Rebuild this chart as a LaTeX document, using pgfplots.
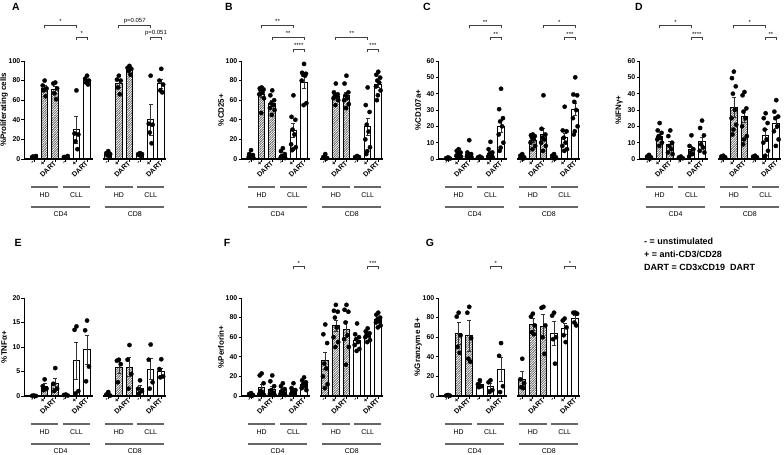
\documentclass[border=0pt]{standalone}
\usepackage{fontspec}
\setmainfont{Liberation Sans}
\usepackage{pgfplots}
\pgfplotsset{compat=1.18}
\usetikzlibrary{patterns.meta}

\tikzdeclarepattern{
  name=fhatch, type=uncolored,
  bottom left={(-0.5pt,-0.5pt)}, top right={(2.9pt,2.9pt)},
  tile size={(2.4pt,2.4pt)},
  code={\draw[line width=0.6pt] (-0.5pt,-0.5pt) -- (2.9pt,2.9pt);}
}

\tikzset{
  gline/.style={black!60, line width=1.3bp},
  gtext/.style={font=\fontsize{7}{8}\selectfont, inner sep=0pt},
  xline/.style={black, line width=1.1bp},
  brk/.style={black!75, line width=0.8bp},
  plet/.style={font=\bfseries\fontsize{10.5}{12}\selectfont, inner sep=0pt},
}

\pgfplotsset{
  panel/.style={
    scale only axis, width=141bp, height=98bp,
    xmin=-0.9, xmax=12.4, ymin=0,
    axis x line*=bottom, axis y line*=left,
    x axis line style={draw=none},
    y axis line style={line width=1.1bp, -},
    xtick={0,1,2,3,4,5,7,8,9,10,11,12},
    xticklabels={-,+,DART,-,+,DART,-,+,DART,-,+,DART},
    x tick label style={rotate=45, anchor=east, font=\bfseries\fontsize{7}{7}\selectfont, inner sep=0.3pt},
    y tick label style={font=\bfseries\fontsize{7}{8}\selectfont, inner sep=1pt},
    /pgf/number format/assume math mode=true,
    tick style={black, line width=0.9bp},
    major tick length=3bp,
    tick align=outside,
    ylabel style={font=\bfseries\fontsize{8}{9}\selectfont, at={(axis description cs:-0.145,0.5)}, anchor=center},
    clip=false,
  },
  hbar/.style={ybar, bar width=0.62, bar shift=0pt, draw=black, line width=1bp,
    pattern=fhatch, pattern color=black!60,
    error bars/.cd, y dir=both, y explicit,
    error bar style={draw=black!80, line width=0.6bp},
    error mark options={rotate=90, mark size=2bp, draw=black!80, line width=0.6bp}},
  wbar/.style={ybar, bar width=0.62, bar shift=0pt, draw=black, line width=1bp, fill=white,
    error bars/.cd, y dir=both, y explicit,
    error bar style={draw=black!80, line width=0.6bp},
    error mark options={rotate=90, mark size=2bp, draw=black!80, line width=0.6bp}},
  pts/.style={only marks, mark=*, mark size=2.15bp, mark options={draw=black, fill=black, line width=0.3bp}},
}

\newcommand{\grp}{%
  \draw[gline] ([yshift=-28bp]axis cs:-0.3,0) -- ([yshift=-28bp]axis cs:2.3,0);
  \draw[gline] ([yshift=-28bp]axis cs:2.7,0) -- ([yshift=-28bp]axis cs:5.3,0);
  \draw[gline] ([yshift=-28bp]axis cs:6.7,0) -- ([yshift=-28bp]axis cs:9.3,0);
  \draw[gline] ([yshift=-28bp]axis cs:9.7,0) -- ([yshift=-28bp]axis cs:12.3,0);
  \draw[gline] ([yshift=-48bp]axis cs:-0.3,0) -- ([yshift=-48bp]axis cs:5.3,0);
  \draw[gline] ([yshift=-48bp]axis cs:6.7,0) -- ([yshift=-48bp]axis cs:12.3,0);
  \node[gtext] at ([yshift=-36.5bp]axis cs:1,0) {HD};
  \node[gtext] at ([yshift=-36.5bp]axis cs:4,0) {CLL};
  \node[gtext] at ([yshift=-36.5bp]axis cs:8,0) {HD};
  \node[gtext] at ([yshift=-36.5bp]axis cs:11,0) {CLL};
  \node[gtext] at ([yshift=-55bp]axis cs:2.5,0) {CD4};
  \node[gtext] at ([yshift=-55bp]axis cs:9.5,0) {CD8};
  \draw[xline] (axis cs:-0.9,0) -- (axis cs:5.6,0);
  \draw[xline] (axis cs:6.5,0) -- (axis cs:12.4,0);
}
% x1, x2, xmid, ytop, shift(bp), label
\newcommand{\brk}[6]{%
  \draw[brk] ([yshift=#5bp-3.5bp]axis cs:#1,#4) -- ([yshift=#5bp]axis cs:#1,#4) -- ([yshift=#5bp]axis cs:#2,#4) -- ([yshift=#5bp-3.5bp]axis cs:#2,#4);
  \node[font=\fontsize{6}{6}\selectfont, anchor=south, inner sep=0.8pt] at ([yshift=#5bp]axis cs:#3,#4) {#6};
}

\begin{document}
\begin{tikzpicture}
\fill[white] (0,0) rectangle (784bp,455bp);
\path[use as bounding box] (0,0) rectangle (784bp,455bp);

% ---------------- A ----------------
\begin{axis}[panel, at={(24.5bp,296bp)}, anchor=south west, ymax=100, ytick={0,20,...,100}, ylabel={\%Proliferating cells}]
\addplot[hbar] table[row sep=\\, x=x, y=y, y error=e] {x y e\\ 0 2 0.4\\ 1 72 3\\ 2 71 3.5\\ 7 5 1\\ 8 77 3.5\\ 9 91 1.6\\};
\addplot[wbar] table[row sep=\\, x=x, y=y, y error=e] {x y e\\ 3 2 0.4\\ 4 30 14\\ 5 80 1.8\\ 10 5 0.6\\ 11 40 16\\ 12 77 4.5\\};
\addplot[pts] coordinates {
(0,1) (-0.18,2) (0.18,3) (-0.09,2.5) (0.09,1.5)
(1,80) (0.82,75) (1.18,72) (0.91,70) (1.09,64)
(2,78) (1.82,77) (2.18,72) (1.91,67) (2.09,61)
(3,1) (2.82,2) (3.18,3) (2.91,2) (3.09,2)
(4,70) (3.82,26) (4.18,25) (3.91,18) (4.09,10)
(5,85) (4.82,82) (5.18,80) (4.91,78) (5.09,76)
(7,8) (6.82,6) (7.18,5) (6.91,4) (7.09,3)
(8,85) (7.82,81) (8.18,80) (7.91,73) (8.09,66)
(9,95) (8.82,93) (9.18,92) (8.91,90) (9.09,86)
(10,6) (9.82,5) (10.18,5) (9.91,4) (10.09,3)
(11,85) (10.82,36) (11.18,35) (10.91,27) (11.09,16)
(12,92) (11.82,80) (12.18,76) (11.91,70) (12.09,68)
};
\grp
\brk{1}{4}{2.5}{100}{36}{*}
\brk{4}{5}{4.5}{100}{24}{*}
\brk{8}{11}{9.5}{100}{36}{p=0.057}
\brk{11}{12}{11.5}{100}{24}{p=0.051}
\end{axis}

% ---------------- B ----------------
\begin{axis}[panel, at={(241.5bp,296bp)}, anchor=south west, ymax=100, ytick={0,20,...,100}, ylabel={\%CD25+}]
\addplot[hbar] table[row sep=\\, x=x, y=y, y error=e] {x y e\\ 0 3 1\\ 1 66 3\\ 2 57 3\\ 7 2 0.8\\ 8 64 2.5\\ 9 65 3.5\\};
\addplot[wbar] table[row sep=\\, x=x, y=y, y error=e] {x y e\\ 3 4 1.2\\ 4 29 7\\ 5 78 6\\ 10 2 0.5\\ 11 33 8.5\\ 12 76 3\\};
\addplot[pts] coordinates {
(0,9) (-0.18,5) (0.18,4) (-0.09,3) (0.09,2) (-0.22,2) (0.22,1) (-0.04,1)
(1,73) (0.82,72) (1.18,71) (0.91,70) (1.09,68) (0.78,66) (1.22,62) (0.96,47)
(2,70) (1.82,65) (2.18,60) (1.91,57) (2.09,55) (1.78,52) (2.22,50) (1.96,45)
(3,11) (2.82,8) (3.18,5) (2.91,3) (3.09,2) (2.78,1) (3.22,1) (2.96,2)
(4,65) (3.82,43) (4.18,40) (3.91,30) (4.09,25) (3.78,15) (4.22,12) (3.96,10) (3.87,9)
(5,97) (4.82,88) (5.18,87) (4.91,86) (5.09,85) (4.78,80) (5.22,57) (4.96,55)
(7,5) (6.82,2) (7.18,1) (6.91,1) (7.09,0.5)
(8,77) (7.82,68) (8.18,66) (7.91,65) (8.09,64) (7.78,62) (8.22,60) (7.96,55)
(9,85) (8.82,77) (9.18,68) (8.91,65) (9.09,62) (8.78,60) (9.22,56) (8.96,52)
(10,3) (9.82,2) (10.18,2) (9.91,1) (10.09,1)
(11,73) (10.82,55) (11.18,48) (10.91,35) (11.09,28) (10.78,20) (11.22,12) (10.96,8) (10.87,5)
(12,89) (11.82,86) (12.18,83) (11.91,80) (12.09,78) (11.78,74) (12.22,70) (11.96,65) (11.87,60)
};
\grp
\brk{1}{4}{2.5}{100}{36}{**}
\brk{2}{5}{3.5}{100}{24}{**}
\brk{4}{5}{4.5}{100}{12}{****}
\brk{8}{11}{9.5}{100}{24}{**}
\brk{11}{12}{11.5}{100}{12}{***}
\end{axis}

% ---------------- C ----------------
\begin{axis}[panel, at={(438.5bp,296bp)}, anchor=south west, ymax=60, ytick={0,10,...,60}, ylabel={\%CD107a+}]
\addplot[hbar] table[row sep=\\, x=x, y=y, y error=e] {x y e\\ 0 0.5 0.2\\ 1 3 0.6\\ 2 3 1.2\\ 7 1 0.4\\ 8 11.5 1.2\\ 9 15 3.5\\};
\addplot[wbar] table[row sep=\\, x=x, y=y, y error=e] {x y e\\ 3 1 0.2\\ 4 3.5 1.2\\ 5 20 3.8\\ 10 1 0.4\\ 11 13 3\\ 12 30.5 3.8\\};
\addplot[pts] coordinates {
(0,1) (-0.18,0.5) (0.18,0.3) (-0.09,0.2)
(1,6) (0.82,5) (1.18,4) (0.91,3) (1.09,2.5) (0.78,2) (1.22,1.5) (0.96,1)
(2,11.5) (1.82,4) (2.18,3) (1.91,2.5) (2.09,2) (1.78,1.5) (2.22,1) (1.96,1)
(3,1.5) (2.82,1) (3.18,0.8) (2.91,0.5)
(4,10.5) (3.82,6) (4.18,4) (3.91,3) (4.09,2) (3.78,1.5) (4.22,1) (3.96,0.5)
(5,43) (4.82,30.5) (5.18,25) (4.91,23) (5.09,20) (4.78,15) (5.22,10) (4.96,7) (4.87,5)
(7,3) (6.82,2) (7.18,1) (6.91,0.5) (7.09,0.3)
(8,15) (7.82,14.5) (8.18,14) (7.91,13) (8.09,12) (7.78,10) (8.22,8) (7.96,6)
(9,39) (8.82,18.5) (9.18,15) (8.91,13) (9.09,12) (8.78,10) (9.22,8) (8.96,5)
(10,3) (9.82,2) (10.18,1) (9.91,0.5) (10.09,0.3)
(11,32) (10.82,17.5) (11.18,17) (10.91,13) (11.09,10) (10.78,8) (11.22,6) (10.96,5)
(12,50) (11.82,39.5) (12.18,39) (11.91,35) (12.09,30) (11.78,25) (12.22,20) (11.96,17) (11.87,15)
};
\grp
\brk{2}{5}{3.5}{60}{36}{**}
\brk{4}{5}{4.5}{60}{24}{**}
\brk{9}{12}{10.5}{60}{36}{*}
\brk{11}{12}{11.5}{60}{24}{***}
\end{axis}

% ---------------- D ----------------
\begin{axis}[panel, at={(639.5bp,296bp)}, anchor=south west, ymax=60, ytick={0,10,...,60}, ylabel={\%IFNγ+}]
\addplot[hbar] table[row sep=\\, x=x, y=y, y error=e] {x y e\\ 0 1 0.3\\ 1 13.5 1.6\\ 2 9 2\\ 7 1 0.3\\ 8 31.5 6\\ 9 26 3.8\\};
\addplot[wbar] table[row sep=\\, x=x, y=y, y error=e] {x y e\\ 3 0.7 0.2\\ 4 6 2\\ 5 11 2.5\\ 10 1 0.3\\ 11 14.5 3.5\\ 12 22 3.5\\};
\addplot[pts] coordinates {
(0,2.5) (-0.18,1.5) (0.18,1) (-0.09,0.5) (0.09,0.3)
(1,22) (0.82,17.5) (1.18,16) (0.91,14) (1.09,13) (0.78,12) (1.22,10) (0.96,8)
(2,17.5) (1.82,14) (2.18,10) (1.91,8) (2.09,6) (1.78,4) (2.22,3)
(3,1.5) (2.82,1) (3.18,0.5) (2.91,0.3)
(4,14.5) (3.82,8) (4.18,6) (3.91,4) (4.09,3) (3.78,1.5)
(5,23.5) (4.82,19) (5.18,14.5) (4.91,9) (5.09,7) (4.78,5) (5.22,4)
(7,2) (6.82,1.5) (7.18,1) (6.91,0.5)
(8,53.5) (7.82,49.5) (8.18,44.5) (7.91,40) (8.09,30) (7.78,25) (8.22,21) (7.96,18) (7.87,15)
(9,41) (8.82,39) (9.18,31) (8.91,29) (9.09,25) (8.78,20) (9.22,14) (8.96,12) (8.87,9)
(10,2) (9.82,1.5) (10.18,1) (9.91,0.5)
(11,28) (10.82,25) (11.18,22) (10.91,18) (11.09,12) (10.78,10) (11.22,5) (10.96,2) (10.87,1)
(12,36) (11.82,29) (12.18,26) (11.91,25) (12.09,20) (11.78,17) (12.22,12) (11.96,8)
};
\grp
\brk{1}{4}{2.5}{60}{36}{*}
\brk{4}{5}{4.5}{60}{24}{****}
\brk{8}{11}{9.5}{60}{36}{*}
\brk{11}{12}{11.5}{60}{24}{**}
\end{axis}

% ---------------- E ----------------
\begin{axis}[panel, at={(24.5bp,59bp)}, anchor=south west, ymax=20, ytick={0,5,...,20}, ylabel={\%TNFα+}]
\addplot[hbar] table[row sep=\\, x=x, y=y, y error=e] {x y e\\ 0 0.05 0\\ 1 2 0.5\\ 2 2.6 1.1\\ 7 0.3 0.2\\ 8 5.9 1.3\\ 9 5.9 1.9\\};
\addplot[wbar] table[row sep=\\, x=x, y=y, y error=e] {x y e\\ 3 0.2 0.05\\ 4 7.2 3.8\\ 5 9.4 3\\ 10 1.5 0.6\\ 11 5.5 2.1\\ 12 5 0.7\\};
\addplot[pts] coordinates {
(0,0.1) (-0.18,0.05) (0.18,0)
(1,3.4) (0.82,2) (1.18,1.5) (0.91,1.2)
(2,5.7) (1.82,2.5) (2.18,1.5) (1.91,1)
(3,0.3) (2.82,0.2) (3.18,0.1)
(4,14.2) (3.82,13.5) (4.18,1) (3.91,0.5)
(5,15.4) (4.82,13.4) (5.18,6) (4.91,3)
(7,0.8) (6.82,0.3) (7.18,0.1)
(8,7.4) (7.82,7.2) (8.18,6.5) (7.91,2.8)
(9,10.4) (8.82,7.4) (9.18,4.5) (8.91,1.5)
(10,3.2) (9.82,1.5) (10.18,1) (9.91,0.5)
(11,10.5) (10.82,7.4) (11.18,2.8) (10.91,1.5)
(12,7.5) (11.82,5.5) (12.18,4) (11.91,3.8)
};
\grp
\end{axis}

% ---------------- F ----------------
\begin{axis}[panel, at={(241.5bp,59bp)}, anchor=south west, ymax=100, ytick={0,20,...,100}, ylabel={\%Perforin+}]
\addplot[hbar] table[row sep=\\, x=x, y=y, y error=e] {x y e\\ 0 1 0.4\\ 1 8.5 3\\ 2 7 2.5\\ 7 36 9\\ 8 72 5.5\\ 9 68 8.5\\};
\addplot[wbar] table[row sep=\\, x=x, y=y, y error=e] {x y e\\ 3 6 1.7\\ 4 6 1.5\\ 5 12 1.7\\ 10 57 3.3\\ 11 62 1.7\\ 12 78 1.8\\};
\addplot[pts] coordinates {
(0,3) (-0.18,2) (0.18,1) (-0.09,0.5) (0.09,0.3)
(1,23) (0.82,21) (1.18,13) (0.91,5) (1.09,3) (0.78,2) (1.22,1) (0.96,1)
(2,21) (1.82,15) (2.18,10) (1.91,6) (2.09,3) (1.78,2) (2.22,1) (1.96,1)
(3,13) (2.82,10) (3.18,7) (2.91,5) (3.09,3) (2.78,2) (3.22,1)
(4,13) (3.82,8) (4.18,6) (3.91,4) (4.09,3) (3.78,2)
(5,19) (4.82,16) (5.18,14) (4.91,12) (5.09,10) (4.78,8) (5.22,6)
(7,73) (6.82,63) (7.18,54) (6.91,33) (7.09,28) (6.78,20) (7.22,12) (6.96,8)
(8,93) (7.82,87) (8.18,86) (7.91,80) (8.09,70) (7.78,60) (8.22,55) (7.96,50)
(9,93) (8.82,88) (9.18,86) (8.91,75) (9.09,62) (8.78,58) (9.22,50) (8.96,32)
(10,74) (9.82,63) (10.18,60) (9.91,58) (10.09,55) (9.78,52) (10.22,48) (9.96,46)
(11,69) (10.82,66) (11.18,64) (10.91,63) (11.09,62) (10.78,60) (11.22,57) (10.96,55)
(12,85) (11.82,83) (12.18,80) (11.91,78) (12.09,76) (11.78,75) (12.22,72) (11.96,70)
};
\grp
\brk{4}{5}{4.5}{100}{32}{*}
\brk{11}{12}{11.5}{100}{32}{***}
\end{axis}

% ---------------- G ----------------
\begin{axis}[panel, at={(438.5bp,59bp)}, anchor=south west, ymax=100, ytick={0,20,...,100}, ylabel={\%Granzyme B+}]
\addplot[hbar] table[row sep=\\, x=x, y=y, y error=e] {x y e\\ 0 0.5 0.2\\ 1 64 11\\ 2 61.5 15.5\\ 7 17 8\\ 8 73 6\\ 9 71 12\\};
\addplot[wbar] table[row sep=\\, x=x, y=y, y error=e] {x y e\\ 3 12 1.7\\ 4 10 3\\ 5 27 12.5\\ 10 64 12.5\\ 11 68.5 6\\ 12 79 3.5\\};
\addplot[pts] coordinates {
(0,1) (-0.18,0.5) (0.18,0.3)
(1,85) (0.82,81) (1.18,62) (0.91,50) (1.09,44)
(2,91) (1.82,85) (2.18,59) (1.91,38) (2.09,35)
(3,16) (2.82,12) (3.18,10) (2.91,9)
(4,16) (3.82,14) (4.18,6) (3.91,4)
(5,54) (4.82,41) (5.18,10) (4.91,4)
(7,38) (6.82,17) (7.18,13) (6.91,9) (7.09,8)
(8,84) (7.82,81) (8.18,72) (7.91,65) (8.09,63)
(9,91) (8.82,90) (9.18,72) (8.91,60) (9.09,43)
(10,85) (9.82,82) (10.18,60) (9.91,58) (10.09,33)
(11,79) (10.82,77) (11.18,70) (10.91,62) (11.09,55)
(12,85) (11.82,85) (12.18,84) (11.91,75) (12.09,72)
};
\grp
\brk{4}{5}{4.5}{100}{32}{*}
\brk{11}{12}{11.5}{100}{32}{*}
\end{axis}

% panel letters
\node[plet] at (16bp,448bp) {A};
\node[plet] at (229bp,448bp) {B};
\node[plet] at (427bp,448bp) {C};
\node[plet] at (639bp,448bp) {D};
\node[plet] at (18bp,212bp) {E};
\node[plet] at (227bp,212bp) {F};
\node[plet] at (430bp,212bp) {G};

% explanation
\node[anchor=west, inner sep=0pt, font=\bfseries\fontsize{9}{11}\selectfont] at (644bp,213.3bp) {- = unstimulated};
\node[anchor=west, inner sep=0pt, font=\bfseries\fontsize{9}{11}\selectfont] at (644bp,200.7bp) {+ = anti-CD3/CD28};
\node[anchor=west, inner sep=0pt, font=\bfseries\fontsize{9}{11}\selectfont] at (644bp,187.3bp) {DART = CD3xCD19\ \ DART};
\end{tikzpicture}
\end{document}
